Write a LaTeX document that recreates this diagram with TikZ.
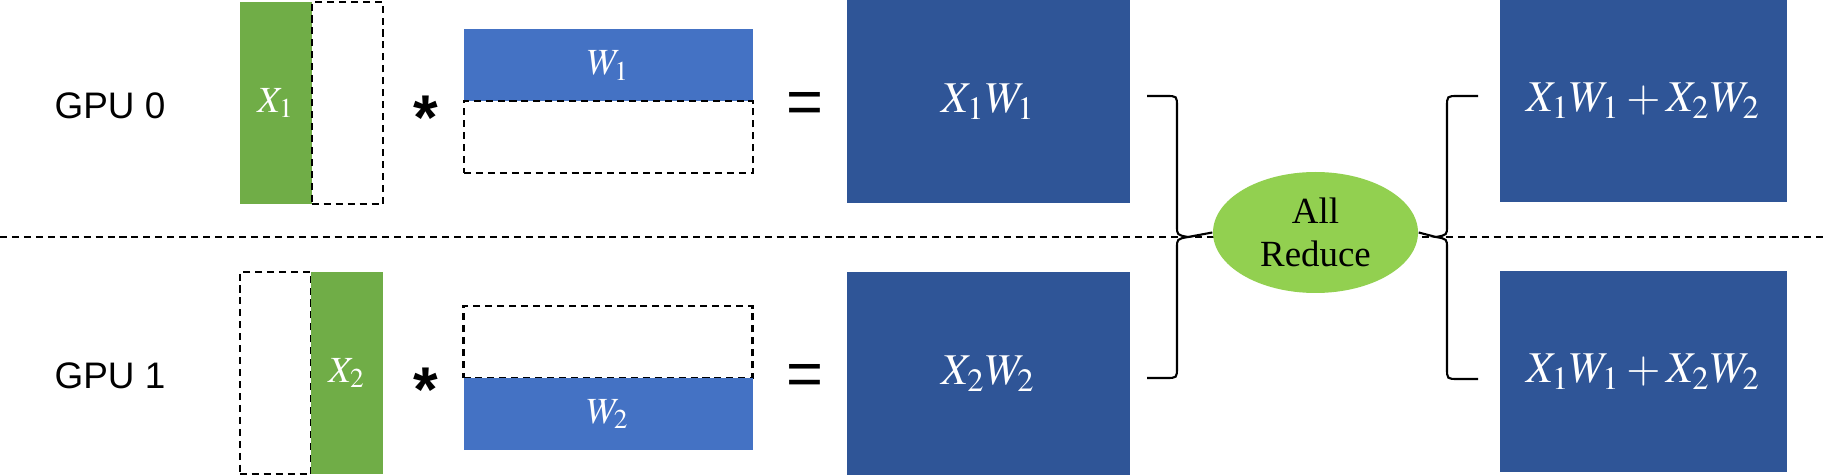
\documentclass[tikz,border=0pt]{standalone}
\usepackage{mathptmx}
\usepackage[no-math]{fontspec}
\setmainfont{Liberation Serif}
\setsansfont{Liberation Sans}
\usetikzlibrary{shapes.geometric}

\definecolor{xgreen}{HTML}{70AD47}
\definecolor{wblue}{HTML}{4472C4}
\definecolor{yblue}{HTML}{2F5597}
\definecolor{rgreen}{HTML}{92D050}

\tikzset{
	pad/.style={draw, dash pattern=on 2pt off 1.4pt, line width=0.6pt, inner sep=0pt},
	xcol/.style={fill=xgreen, text=white, inner sep=0pt, minimum width=0.715cm, minimum height=2.02cm, font=\fontsize{10.5}{12}\selectfont},
	xpad/.style={pad, minimum width=0.715cm, minimum height=2.02cm},
	wrow/.style={fill=wblue, text=white, inner sep=0pt, minimum width=2.89cm, minimum height=0.72cm, font=\fontsize{10.5}{12}\selectfont},
	wpad/.style={pad, minimum width=2.89cm, minimum height=0.72cm},
	result/.style={fill=yblue, text=white, inner sep=0pt, minimum height=2.03cm, font=\fontsize{12.5}{14}\selectfont},
	gpu/.style={font=\sffamily\fontsize{10.5}{12}\selectfont},
	op/.style={font=\sffamily\fontsize{18}{18}\selectfont, inner sep=0pt},
	times/.style={op, font=\sffamily\bfseries\fontsize{18}{18}\selectfont, anchor=base},
	divider/.style={dash pattern=on 2pt off 1.4pt, line width=0.6pt},
	curly/.style={line width=0.6pt},
}

\begin{document}
\begin{tikzpicture}

	\useasboundingbox (0,0) rectangle (18.26,4.76);

	% divider between the two gpus
	\coordinate (div_left)  at (0,2.39);
	\coordinate (div_right) at (18.26,2.39);
	\draw[divider] (div_left) -- (div_right);

	% node definitions: gpu 0
	\node[gpu]  (gpu0) at (1.10,3.70) {GPU 0};
	\node[xcol]   (x1) at (2.76,3.73) {$X_1$};
	\node[xpad] (x1_pad) at (3.475,3.73) {};
	\node[times] (star0) at (4.26,3.36) {*};
	\node[wrow]   (w1) at (6.085,4.105) {$W_1$};
	\node[wpad] (w1_pad) at (6.085,3.39) {};
	\node[op]    (eq0) at (8.05,3.68) {=};
	\node[result, minimum width=2.83cm] (y1) at (9.885,3.745) {$X_1W_1$};

	% node definitions: gpu 1
	\node[gpu]  (gpu1) at (1.10,1.00) {GPU 1};
	\node[xpad] (x2_pad) at (2.755,1.03) {};
	\node[xcol]   (x2) at (3.47,1.03) {$X_2$};
	\node[times] (star1) at (4.26,0.65) {*};
	\node[wpad] (w2_pad) at (6.08,1.34) {};
	\node[wrow]   (w2) at (6.08,0.62) {$W_2$};
	\node[op]    (eq1) at (8.05,0.96) {=};
	\node[result, minimum width=2.83cm] (y2) at (9.885,1.02) {$X_2W_2$};

	% reduced results
	\node[result, minimum width=2.87cm, minimum height=2.02cm] (sum0) at (16.435,3.75) {$X_1W_1+X_2W_2$};
	\node[result, minimum width=2.87cm, minimum height=2.01cm] (sum1) at (16.435,1.045) {$X_1W_1+X_2W_2$};

	% all reduce
	\node[ellipse, fill=rgreen, inner sep=0pt, minimum width=2.05cm, minimum height=1.21cm,
		align=center, font=\fontsize{10.5}{12.3}\selectfont] (allreduce) at (13.155,2.435) {All\\Reduce};

	% braces
	\coordinate (lb_top) at (11.47,3.80);
	\coordinate (lb_bot) at (11.47,0.98);
	\coordinate (rb_top) at (14.78,3.80);
	\coordinate (rb_bot) at (14.78,0.97);
	\draw[curly] (lb_top) -- (11.66,3.80) .. controls (11.77,3.80) .. (11.77,3.69)
		-- (11.77,2.50) .. controls (11.77,2.41) .. (11.88,2.39)
		.. controls (11.77,2.37) .. (11.77,2.28)
		-- (11.77,1.09) .. controls (11.77,0.98) .. (11.66,0.98) -- (lb_bot);
	\draw[curly] (11.88,2.39) -- (allreduce.west);
	\draw[curly] (rb_top) -- (14.58,3.80) .. controls (14.47,3.80) .. (14.47,3.69)
		-- (14.47,2.50) .. controls (14.47,2.41) .. (14.36,2.39)
		.. controls (14.47,2.37) .. (14.47,2.28)
		-- (14.47,1.08) .. controls (14.47,0.97) .. (14.58,0.97) -- (rb_bot);
	\draw[curly] (14.36,2.39) -- (allreduce.east);

\end{tikzpicture}
\end{document}
